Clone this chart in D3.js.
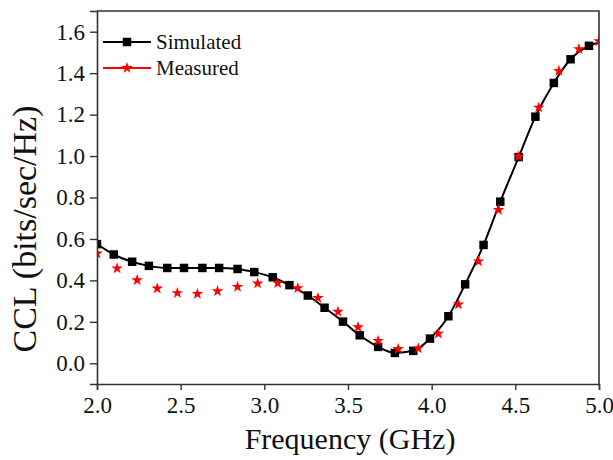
<!DOCTYPE html>
<html>
<head>
<meta charset="utf-8">
<script src="https://cdn.jsdelivr.net/npm/d3@7"></script>
<style>
  body { margin: 0; background: #fff; }
  svg text { font-family: "Liberation Serif", "Times New Roman", serif; }
</style>
</head>
<body>
<svg id="chart" width="613" height="460"></svg>
<script>
// Simulated curve (markers at every point except the last one at the frame edge)
const simFreq = [2.00, 2.10, 2.21, 2.31, 2.42, 2.52, 2.63, 2.73, 2.84, 2.94,
                 3.05, 3.15, 3.26, 3.36, 3.47, 3.57, 3.68, 3.78, 3.89, 3.99,
                 4.10, 4.20, 4.31, 4.41, 4.52, 4.62, 4.73, 4.83, 4.94, 5.00];
const simCCL = [0.575, 0.525, 0.49, 0.47, 0.46, 0.46, 0.46, 0.46, 0.455, 0.44,
                0.415, 0.377, 0.327, 0.268, 0.201, 0.135, 0.079, 0.05, 0.06, 0.119,
                0.227, 0.381, 0.571, 0.78, 0.995, 1.19, 1.353, 1.467, 1.532, 1.548];

// Measured points
const measFreq = [2.00, 2.12, 2.24, 2.36, 2.48, 2.60, 2.72, 2.84, 2.96, 3.08,
                  3.20, 3.32, 3.44, 3.56, 3.68, 3.80, 3.92, 4.04, 4.16, 4.28,
                  4.40, 4.52, 4.64, 4.76, 4.88, 5.00];
const measCCL = [0.53, 0.458, 0.401, 0.361, 0.339, 0.335, 0.348, 0.369, 0.385, 0.387,
                 0.363, 0.315, 0.249, 0.174, 0.108, 0.069, 0.072, 0.143, 0.284, 0.492,
                 0.74, 0.998, 1.234, 1.411, 1.516, 1.555];

const xTicks = [2.0, 2.5, 3.0, 3.5, 4.0, 4.5, 5.0];
const yTicks = [0.0, 0.2, 0.4, 0.6, 0.8, 1.0, 1.2, 1.4, 1.6];

const margin = {top: 11, right: 14, bottom: 76, left: 97};
const W = 613, H = 460;
const w = W - margin.left - margin.right;
const h = H - margin.top - margin.bottom;
const serif = '"Liberation Serif", "Times New Roman", serif';

const svg = d3.select('#chart');
const g = svg.append('g').attr('transform', `translate(${margin.left},${margin.top})`);

const x = d3.scaleLinear().domain([2.0, 5.0]).range([0, w]);
const y = d3.scaleLinear().domain([-0.1, 1.7]).range([h, 0]);

g.append('clipPath').attr('id', 'clip')
  .append('rect').attr('width', w).attr('height', h);

const sim = simFreq.map((f, i) => ({f: f, v: simCCL[i]}));
const meas = measFreq.map((f, i) => ({f: f, v: measCCL[i]}));

const plot = g.append('g').attr('clip-path', 'url(#clip)');

const line = d3.line()
  .x(d => x(d.f))
  .y(d => y(d.v))
  .curve(d3.curveMonotoneX);

plot.append('path')
  .datum(sim)
  .attr('fill', 'none')
  .attr('stroke', '#000')
  .attr('stroke-width', 2)
  .attr('d', line);

const square = d3.symbol().type(d3.symbolSquare).size(72);
const star = d3.symbol().type(d3.symbolStar).size(42);

plot.selectAll('path.sq')
  .data(sim.filter(d => d.f < 5.0))
  .enter().append('path')
    .attr('class', 'sq')
    .attr('transform', d => `translate(${x(d.f)},${y(d.v)})`)
    .attr('d', square)
    .attr('fill', '#000');

plot.selectAll('path.st')
  .data(meas)
  .enter().append('path')
    .attr('class', 'st')
    .attr('transform', d => `translate(${x(d.f)},${y(d.v)})`)
    .attr('d', star)
    .attr('fill', '#ff0000');

// Axes
const axisColor = '#333';
const xAxis = g.append('g')
  .attr('transform', `translate(0,${h})`)
  .call(d3.axisBottom(x).tickValues(xTicks).tickFormat(d3.format('.1f')).tickSizeOuter(0).tickSize(6).tickPadding(7));
const yAxis = g.append('g')
  .call(d3.axisLeft(y).tickValues(yTicks).tickFormat(d3.format('.1f')).tickSizeOuter(0).tickSize(7).tickPadding(5));

[xAxis, yAxis].forEach(a => {
  a.attr('font-family', serif).attr('font-size', 23);
  a.select('.domain').attr('stroke', axisColor).attr('stroke-width', 1.6);
  a.selectAll('.tick line').attr('stroke', axisColor).attr('stroke-width', 1.4);
  a.selectAll('.tick text').attr('fill', '#111');
});

// top and right frame
g.append('path')
  .attr('d', `M0,0H${w}V${h}`)
  .attr('fill', 'none')
  .attr('stroke', axisColor)
  .attr('stroke-width', 1.6);

// Axis titles
svg.append('text')
  .attr('x', 350)
  .attr('y', 449)
  .attr('text-anchor', 'middle')
  .attr('font-size', 30)
  .attr('fill', '#111')
  .text('Frequency (GHz)');

svg.append('text')
  .attr('transform', 'translate(36,229) rotate(-90)')
  .attr('text-anchor', 'middle')
  .attr('font-size', 34)
  .attr('fill', '#111')
  .text('CCL (bits/sec/Hz)');

// Legend
const legend = [
  {name: 'Simulated', color: '#000', sym: square, ly: 42},
  {name: 'Measured', color: '#ff0000', sym: star, ly: 68}
];
const lg = svg.append('g');
legend.forEach(d => {
  lg.append('line')
    .attr('x1', 103).attr('x2', 151)
    .attr('y1', d.ly).attr('y2', d.ly)
    .attr('stroke', d.color).attr('stroke-width', 2);
  lg.append('path')
    .attr('transform', `translate(127,${d.ly})`)
    .attr('d', d.sym)
    .attr('fill', d.color);
  lg.append('text')
    .attr('x', 156).attr('y', d.ly + 7)
    .attr('font-size', 21)
    .attr('fill', '#111')
    .text(d.name);
});
</script>
</body>
</html>
